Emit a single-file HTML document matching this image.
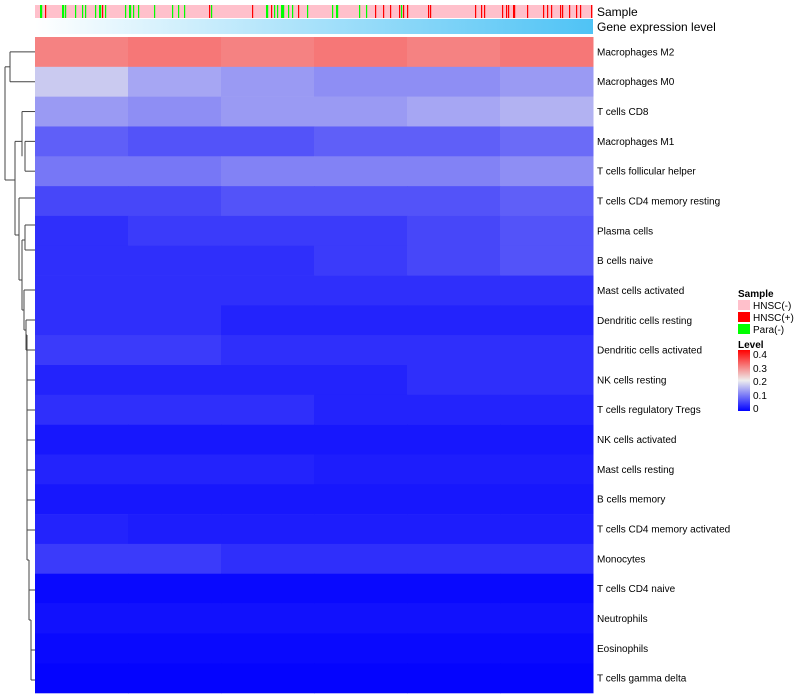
<!DOCTYPE html>
<html><head><meta charset="utf-8"><style>
body{margin:0;background:#fff;}
svg{display:block;font-family:"Liberation Sans",sans-serif;}
</style></head><body>
<svg id="chart" width="800" height="700">
<defs>
<linearGradient id="gexp" x1="0" x2="1" y1="0" y2="0"><stop offset="0" stop-color="#ffffff"/><stop offset="1" stop-color="#4fc3f5"/></linearGradient>
<linearGradient id="lvl" x1="0" x2="0" y1="1" y2="0"><stop offset="0" stop-color="#0000ff"/><stop offset="0.5" stop-color="#eeeeee"/><stop offset="1" stop-color="#ff0000"/></linearGradient>
</defs>
<g id="dendro" stroke="#444" fill="none" stroke-width="1"></g>
<g id="cells"></g>
<g id="ann"></g>
<rect x="35" y="19" width="558" height="15" fill="url(#gexp)"/>
<text x="597" y="16" font-size="12">Sample</text>
<text x="597" y="31" font-size="12">Gene expression level</text>
<g id="labels" font-size="10" style="white-space:pre"></g>
<g font-size="10">
<text x="738" y="297" font-weight="bold">Sample</text>
<rect x="738" y="300" width="12" height="10" fill="#ffc0cb"/>
<text x="753" y="309">HNSC(-)</text>
<rect x="738" y="312" width="12" height="10" fill="#ff0000"/>
<text x="753" y="321">HNSC(+)</text>
<rect x="738" y="324" width="12" height="10" fill="#00ff00"/>
<text x="753" y="333">Para(-)</text>
<text x="738" y="348" font-weight="bold">Level</text>
<rect x="738" y="350" width="12" height="61" fill="url(#lvl)"/>
<text x="753" y="358">0.4</text>
<text x="753" y="372">0.3</text>
<text x="753" y="385">0.2</text>
<text x="753" y="399">0.1</text>
<text x="753" y="412">0</text>
</g>
</svg>
<script>
const rowNames=["Macrophages M2","Macrophages M0","T cells CD8","Macrophages M1","T cells follicular helper","T cells CD4 memory resting","Plasma cells","B cells naive","Mast cells activated","Dendritic cells resting","Dendritic cells activated","NK cells resting","T cells regulatory  Tregs","NK cells activated","Mast cells resting","B cells memory","T cells CD4 memory activated","Monocytes","T cells CD4 naive","Neutrophils","Eosinophils","T cells gamma delta"];
// estimated mean level per row, 6 column segments
const rowValues=[
[0.29,0.30,0.29,0.30,0.29,0.30],
[0.17,0.14,0.13,0.12,0.12,0.13],
[0.13,0.12,0.13,0.13,0.14,0.15],
[0.08,0.07,0.07,0.08,0.08,0.09],
[0.10,0.10,0.11,0.11,0.11,0.12],
[0.06,0.06,0.07,0.07,0.07,0.08],
[0.04,0.05,0.05,0.05,0.06,0.07],
[0.04,0.04,0.04,0.05,0.06,0.07],
[0.04,0.04,0.04,0.04,0.04,0.04],
[0.04,0.04,0.03,0.03,0.03,0.03],
[0.05,0.05,0.04,0.04,0.04,0.04],
[0.03,0.03,0.03,0.03,0.04,0.04],
[0.04,0.04,0.04,0.03,0.03,0.03],
[0.02,0.02,0.02,0.02,0.02,0.02],
[0.03,0.03,0.03,0.025,0.025,0.025],
[0.02,0.02,0.02,0.02,0.02,0.02],
[0.03,0.025,0.025,0.025,0.025,0.025],
[0.05,0.05,0.04,0.04,0.04,0.04],
[0.008,0.008,0.008,0.008,0.008,0.008],
[0.015,0.015,0.015,0.015,0.015,0.015],
[0.008,0.008,0.008,0.008,0.008,0.008],
[0.004,0.004,0.004,0.004,0.004,0.004]];
const nCols=558;
const greenCols=[5,6,27,28,30,40,47,50,60,64,65,70,90,94,95,98,103,119,137,143,149,176,231,232,239,242,246,247,248,253,257,272,297,301,302,324,331,366];
const redCols=[10,67,174,217,236,263,340,348,355,364,368,372,393,395,440,446,449,467,471,473,478,479,492,508,512,516,525,527,534,541,545,556];

const NS='http://www.w3.org/2000/svg';
const X0=35,Y0=37,W=558,H=656,rowH=H/rowNames.length;
function xScale(c){return X0+c*W/nCols;}
function yScale(r){return Y0+r*rowH;}
function color(v){
  const t=Math.max(0,Math.min(1,v/0.4));
  let r,g,b;
  if(t<0.5){const u=t/0.5;r=238*u;g=238*u;b=255-17*u;}
  else{const u=(t-0.5)/0.5;r=238+17*u;g=238*(1-u);b=238*(1-u);}
  return `rgb(${r|0},${g|0},${b|0})`;
}
const cells=document.getElementById('cells');
rowValues.forEach((vals,r)=>{
  const segW=W/vals.length;
  vals.forEach((v,s)=>{
    const rc=document.createElementNS(NS,'rect');
    rc.setAttribute('x',X0+s*segW);rc.setAttribute('y',yScale(r));
    rc.setAttribute('width',segW+0.5);rc.setAttribute('height',rowH+0.3);
    rc.setAttribute('fill',color(v));
    
    
    cells.appendChild(rc);
  });
});
const ann=document.getElementById('ann');
const bg=document.createElementNS(NS,'rect');
bg.setAttribute('x',X0);bg.setAttribute('y',5);bg.setAttribute('width',W);bg.setAttribute('height',13);bg.setAttribute('fill','#ffc0cb');


ann.appendChild(bg);
function stripe(c,col,name){
  const s=document.createElementNS(NS,'rect');
  s.setAttribute('x',xScale(c));s.setAttribute('y',5);s.setAttribute('width',1.2);s.setAttribute('height',13);s.setAttribute('fill',col);
  
  
  ann.appendChild(s);
}
greenCols.forEach(c=>stripe(c,'#00ff00','para-sample-stripe'));
redCols.forEach(c=>stripe(c,'#ff0000','hnsc-pos-sample-stripe'));
const labels=document.getElementById('labels');
rowNames.forEach((n,r)=>{
  const t=document.createElementNS(NS,'text');
  t.setAttribute('x',597);t.setAttribute('y',yScale(r)+rowH/2+3.5);
  t.textContent=n;
  
  
  labels.appendChild(t);
});
const dend=document.getElementById('dendro');
const yc=r=>yScale(r)+rowH/2;
const segs=[
[10,yc(0),35,yc(0)],[10,yc(1),35,yc(1)],[10,yc(0),10,yc(1)],
[22,yc(2),35,yc(2)],[25,yc(3),35,yc(3)],[25,yc(4),35,yc(4)],[25,yc(3),25,yc(4)],[22,yc(2),22,(yc(3)+yc(4))/2],
[5,(yc(0)+yc(1))/2,10,(yc(0)+yc(1))/2],[5,(yc(0)+yc(1))/2,5,180],[5,180,15,180],
[15,(yc(2)+yc(4))/2,22,(yc(2)+yc(4))/2],[15,(yc(2)+yc(4))/2,15,235],[15,235,19,235],
[19,198,35,198],[19,198,19,280],[19,280,22,280],
[25,225,35,225],[25,225,25,250],[25,250,35,250],[22,240,25,240],[22,240,22,310],[22,310,24,310],
[24,290,35,290],[24,290,24,330],[24,330,26,330],[26,320,35,320],[26,320,26,350],[26,350,35,350],
[26,335,27,335],[27,335,27,560],[27,380,35,380],[27,410,35,410],[27,440,35,440],[27,470,35,470],[27,500,35,500],[27,530,35,530],[27,560,29,560],
[29,560,29,620],[29,590,35,590],[29,620,31,620],[31,620,31,680],[31,650,35,650],[31,680,35,680]
];
segs.forEach(s=>{
  const l=document.createElementNS(NS,'line');
  l.setAttribute('x1',s[0]);l.setAttribute('y1',s[1]);l.setAttribute('x2',s[2]);l.setAttribute('y2',s[3]);
  
  
  dend.appendChild(l);
});
</script>
</body></html>
